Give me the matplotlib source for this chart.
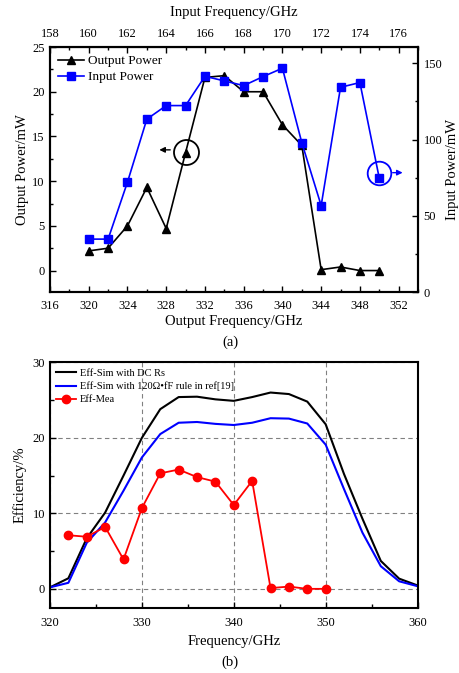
import matplotlib
matplotlib.use('Agg')
import matplotlib.pyplot as plt
from matplotlib.ticker import MultipleLocator

plt.rcParams['font.family'] = ['Liberation Serif', 'DejaVu Serif']

# (a) output / input power
out_freq = [320, 322, 324, 326, 328, 330, 332, 334, 336, 338, 340, 342, 344, 346, 348, 350]
out_power = [2.2, 2.5, 5.0, 9.3, 4.7, 13.2, 21.6, 21.8, 20.0, 20.0, 16.3, 14.0, 0.1, 0.4, 0.0, 0.0]
in_power = [34.7, 34.7, 72.1, 113.4, 122.3, 122.3, 141.5, 138.5, 135.4, 141.3, 146.8, 98.0, 56.7, 134.3, 137.4, 74.7]

# (b) efficiency
sim_freq = [320, 322, 324, 326, 328, 330, 332, 334, 336, 338, 340, 342, 344, 346, 348, 350,
            352, 354, 356, 358, 360]
eff_dc = [0.2, 1.4, 6.7, 10.1, 15.0, 20.0, 23.8, 25.4, 25.45, 25.1, 24.9, 25.4, 26.0, 25.8, 24.8, 21.8,
          15.2, 9.3, 3.7, 1.35, 0.45]
eff_120 = [0.2, 0.8, 6.1, 8.8, 13.0, 17.4, 20.5, 22.0, 22.1, 21.85, 21.7, 22.0, 22.6, 22.55, 21.9, 19.1,
           13.2, 7.45, 3.0, 1.0, 0.35]
mea_freq = [322, 324, 326, 328, 330, 332, 334, 336, 338, 340, 342, 344, 346, 348, 350]
eff_mea = [7.1, 6.9, 8.2, 3.9, 10.7, 15.3, 15.8, 14.8, 14.2, 11.1, 14.3, 0.1, 0.3, 0.0, 0.0]

fig = plt.figure(figsize=(4.6, 6.73), dpi=100)

def style_ticks(ax):
    ax.tick_params(which='both', direction='in', labelsize=9, pad=4)
    ax.tick_params(which='major', length=4, width=1)
    ax.tick_params(which='minor', length=2.5, width=1)
    for s in ax.spines.values():
        s.set_linewidth(1.5)

# ---- (a)
ax1 = fig.add_axes([0.1087, 0.5661, 0.8, 0.364])
ax2 = ax1.twinx()
l1, = ax1.plot(out_freq, out_power, '-^', color='black', lw=1.2, ms=6, label='Output Power')
l2, = ax2.plot(out_freq, in_power, '-s', color='blue', lw=1.2, ms=5.5, label='Input Power')
ax1.set_xlim(316, 354)
ax1.set_ylim(-2.4, 25)
ax2.set_ylim(0, 160.7)
ax1.xaxis.set_major_locator(MultipleLocator(4))
ax1.xaxis.set_minor_locator(MultipleLocator(2))
ax1.yaxis.set_major_locator(MultipleLocator(5))
ax1.yaxis.set_minor_locator(MultipleLocator(2.5))
ax2.yaxis.set_major_locator(MultipleLocator(50))
ax2.yaxis.set_minor_locator(MultipleLocator(25))
style_ticks(ax1)
style_ticks(ax2)
ax1.tick_params(axis='x', pad=6)
ax1.set_xlabel('Output Frequency/GHz', fontsize=10.5, labelpad=2)
ax1.set_ylabel('Output Power/mW', fontsize=10.5, labelpad=2)
ax2.set_ylabel('Input Power/mW', fontsize=10.5, labelpad=3)

sec = ax1.secondary_xaxis('top', functions=(lambda x: x / 2, lambda x: x * 2))
sec.xaxis.set_major_locator(MultipleLocator(2))
sec.xaxis.set_minor_locator(MultipleLocator(1))
sec.tick_params(which='both', direction='in', labelsize=9, pad=5)
sec.tick_params(which='major', length=4, width=1)
sec.tick_params(which='minor', length=2.5, width=1)
sec.set_xlabel('Input Frequency/GHz', fontsize=10.5, labelpad=9)

ax2.legend(handles=[l1, l2], loc='upper left', frameon=False, fontsize=9.5,
           handlelength=2, handletextpad=0.3, labelspacing=0.3,
           borderaxespad=0.2)

# circle markers with arrows
ax1.plot([330], [13.3], 'o', ms=18, mfc='none', mec='black', mew=1.3)
ax1.annotate('', xy=(327.0, 13.5), xytext=(328.7, 13.5),
             arrowprops=dict(arrowstyle='-|>', color='black', lw=1, mutation_scale=8))
ax2.plot([350], [78], 'o', ms=17, mfc='none', mec='blue', mew=1.3)
ax2.annotate('', xy=(352.7, 78.3), xytext=(351.1, 78.3),
             arrowprops=dict(arrowstyle='-|>', color='blue', lw=1, mutation_scale=8))

fig.text(0.5, 1 - 342 / 673, '(a)', ha='center', va='center', fontsize=10.5)

# ---- (b)
ax = fig.add_axes([0.1087, 0.097, 0.799, 0.3646])
ax.plot(sim_freq, eff_dc, '-', color='black', lw=1.5, label='Eff-Sim with DC Rs')
ax.plot(sim_freq, eff_120, '-', color='blue', lw=1.5, label='Eff-Sim with 120Ω•fF rule in ref[19]')
ax.plot(mea_freq, eff_mea, '-o', color='red', lw=1.3, ms=6, label='Eff-Mea')
ax.set_xlim(320, 360)
ax.set_ylim(-2.5, 30)
ax.xaxis.set_major_locator(MultipleLocator(10))
ax.xaxis.set_minor_locator(MultipleLocator(5))
ax.yaxis.set_major_locator(MultipleLocator(10))
ax.yaxis.set_minor_locator(MultipleLocator(5))
ax.tick_params(which='both', direction='in', labelsize=9, top=False, right=False)
ax.tick_params(axis='x', pad=7)
ax.tick_params(which='major', length=4, width=1)
ax.tick_params(which='minor', length=3, width=1)
for s in ax.spines.values():
    s.set_linewidth(1.5)
ax.grid(True, which='major', color='gray', ls=(0, (4, 3)), lw=0.8)
ax.set_axisbelow(True)
ax.set_xlabel('Frequency/GHz', fontsize=10.5, labelpad=4)
ax.set_ylabel('Efficiency/%', fontsize=10.5, labelpad=4)
ax.legend(loc='upper left', frameon=False, fontsize=7.5, handlelength=1.9,
          handletextpad=0.4, labelspacing=0.35, borderaxespad=0.2)

fig.text(0.5, 1 - 662 / 673, '(b)', ha='center', va='center', fontsize=10.5)

fig.savefig('out.png', dpi=100)
